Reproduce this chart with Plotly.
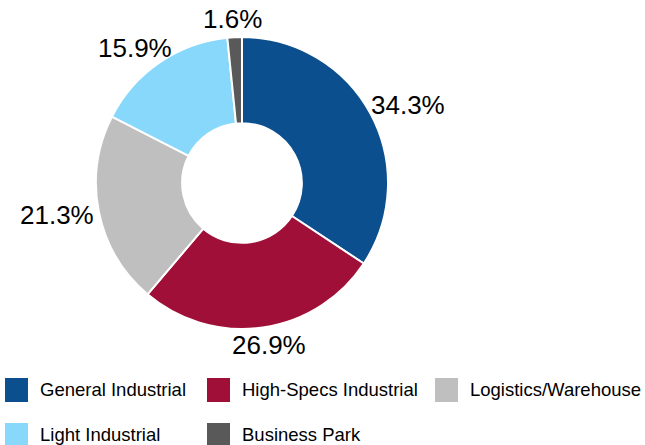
import math
import plotly.graph_objects as go

labels = ["General Industrial", "High-Specs Industrial", "Logistics/Warehouse", "Light Industrial", "Business Park"]
values = [34.3, 26.9, 21.3, 15.9, 1.6]
colors = ["#0B4F8F", "#A00F38", "#BFBFBF", "#87D8FA", "#595959"]

W, H = 645, 445
cx, cy, r = 242, 183, 146
LBL_SIZE = 26

fig = go.Figure(go.Pie(
    labels=labels, values=values, sort=False, direction="clockwise", rotation=0,
    hole=0.41,
    marker=dict(colors=colors, line=dict(color="white", width=2)),
    textinfo="none",
    showlegend=False,
    domain=dict(x=[(cx - r) / W, (cx + r) / W], y=[1 - (cy + r) / H, 1 - (cy - r) / H]),
))

# percentage labels placed just outside each slice's mid-angle (derived from values)
cw = {"%": 0.889, ".": 0.278}
total = sum(values)
annos = []
cum = 0.0
for v in values:
    mid = (cum + v / 2) / total * 2 * math.pi
    cum += v
    txt = f"{v / total * 100:.1f}%"
    w = sum(cw.get(c, 0.556) for c in txt) * LBL_SIZE
    h = 24
    s, c = math.sin(mid), math.cos(mid)
    pad = 6
    px = cx + (r + pad) * s + w / 2 * s
    py = cy - (r + pad) * c - h / 2 * c
    annos.append(dict(xref="paper", yref="paper", x=px / W, y=1 - py / H, text=txt,
                      showarrow=False, xanchor="center", yanchor="middle",
                      font=dict(family="Liberation Sans, Arial", size=LBL_SIZE, color="#000000")))

# manual legend (positions in pixels)
leg_pos = [(5, 390), (207, 390), (435, 390), (5, 435), (207, 435)]
shapes = []
for (lx, ly), lab, col in zip(leg_pos, labels, colors):
    shapes.append(dict(type="rect", xref="paper", yref="paper",
                       x0=lx / W, x1=(lx + 23) / W, y0=1 - (ly + 12) / H, y1=1 - (ly - 12) / H,
                       fillcolor=col, line=dict(width=0)))
    annos.append(dict(xref="paper", yref="paper", x=(lx + 33) / W, y=1 - (ly - 1) / H,
                      text=lab, showarrow=False, xanchor="left", yanchor="middle",
                      font=dict(family="Liberation Sans, Arial", size=18.5, color="#000000")))

fig.update_layout(
    width=W, height=H, margin=dict(l=0, r=0, t=0, b=0),
    paper_bgcolor="white", plot_bgcolor="white",
    shapes=shapes, annotations=annos,
)
fig.write_html("out.html")
